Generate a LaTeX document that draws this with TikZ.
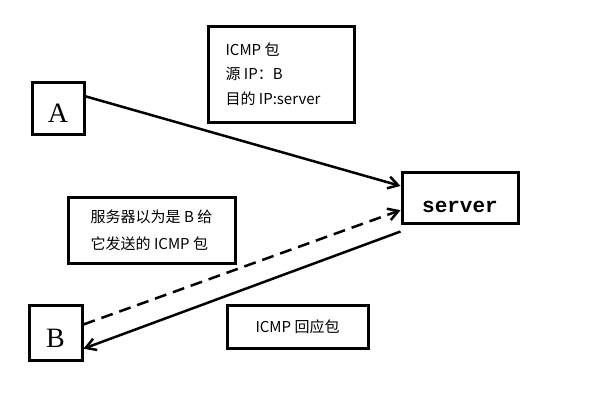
\documentclass[tikz,border=0pt]{standalone}
\usepackage{fontspec}
\setmainfont{Liberation Serif}
\newfontfamily\cjk{Noto Sans CJK SC}
\newfontfamily\srvfont{Liberation Mono}
\usepackage{tikz}
\usetikzlibrary{arrows.meta,positioning}
\tikzset{
  hostblock/.style={
    draw,
    line width=3pt,
    inner sep=0pt,
    font=\fontsize{28}{32}\selectfont
  },
  noteblock/.style={
    draw,
    line width=3pt,
    align=left,
    inner sep=0pt,
    font=\cjk\fontsize{15}{24.5}\selectfont
  },
  flowarrow/.style={-{Straight Barb[length=10pt,width=12pt,line width=2.5pt]}, line width=2.5pt},
  spoofarrow/.style={flowarrow, dash pattern=on 12pt off 7pt}
}
\begin{document}
\begin{tikzpicture}[x=1pt,y=-1pt]
\useasboundingbox (0,0) rectangle (594,408);
\node[noteblock, minimum width=146pt, minimum height=96pt] (packet) at (281,74) {\hspace*{-16pt}ICMP 包\\\hspace*{-16pt}源 IP：B\\\hspace*{-16pt}目的 IP:server};
\node[hostblock, minimum width=52pt, minimum height=52pt] (A) at (58,108) {\raisebox{-14pt}[0pt][0pt]{A}};
\node[hostblock, minimum width=116pt, minimum height=51pt, font=\srvfont\bfseries\fontsize{21}{24}\selectfont] (server) at (460,197.5) {\raisebox{-15pt}[0pt][0pt]{server}};
\node[noteblock, minimum width=167pt, minimum height=66pt, font=\cjk\fontsize{15}{27}\selectfont] (belief) at (151.5,230) {服务器以为是 B 给\\它发送的 ICMP 包};
\node[hostblock, minimum width=53pt, minimum height=55pt] (B) at (55.5,332.5) {\raisebox{-15pt}[0pt][0pt]{B}};
\node[noteblock, minimum width=141pt, minimum height=43pt] (reply) at (297.5,326.5) {ICMP 回应包};

\draw[flowarrow] (A.23) -- (server.169);
\draw[spoofarrow] (B.16) -- (server.192);
\draw[flowarrow] ([yshift=-7pt]server.south west) -- (B.-30);
\end{tikzpicture}
\end{document}
